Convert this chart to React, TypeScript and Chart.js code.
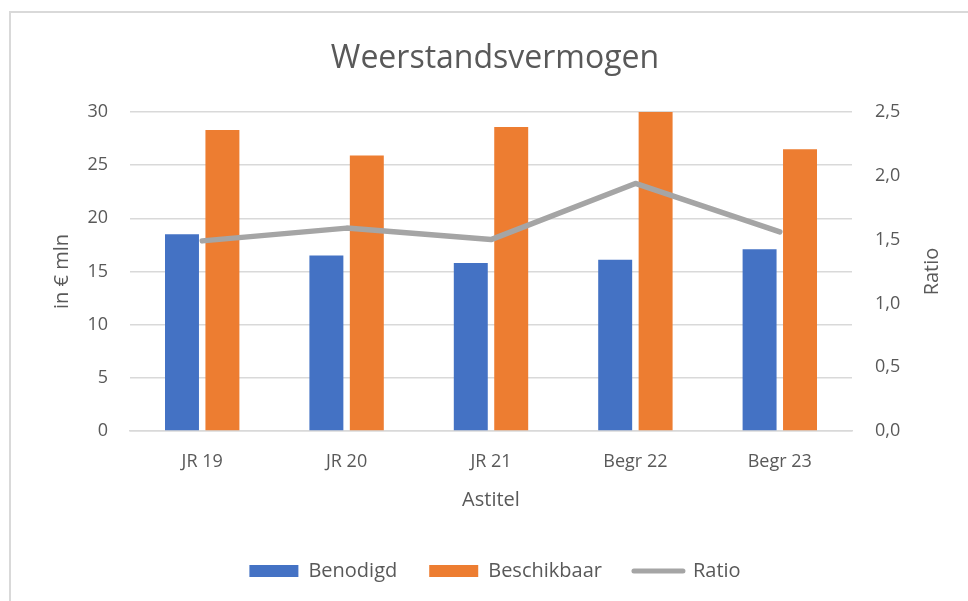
import React, { useEffect, useRef } from 'react';
import { Chart, registerables } from 'chart.js';

Chart.register(...registerables);

const categories = ['JR 19', 'JR 20', 'JR 21', 'Begr 22', 'Begr 23'];
const benodigd = [18.5, 16.5, 15.8, 16.1, 17.1];
const beschikbaar = [28.3, 25.9, 28.6, 30.0, 26.5];
const ratio = [1.49, 1.59, 1.5, 1.94, 1.56];

const chartTitle = 'Weerstandsvermogen';
const xTitle = 'Astitel';
const yTitle = 'in € mln';
const y1Title = 'Ratio';
const seriesNames = ['Benodigd', 'Beschikbaar', 'Ratio'];

const FONT = "'Open Sans', sans-serif";
const TEXT = '#595959';
const GRID = '#d9d9d9';
const BLUE = '#4472C4';
const ORANGE = '#ED7D31';
const GREY = '#A5A5A5';

const rightTitlePlugin = {
  id: 'rightTitle',
  afterDraw(chart: any) {
    const { ctx, chartArea } = chart;
    ctx.save();
    ctx.translate(932, (chartArea.top + chartArea.bottom) / 2);
    ctx.rotate(-Math.PI / 2);
    ctx.fillStyle = TEXT;
    ctx.font = `20px ${FONT}`;
    ctx.textAlign = 'center';
    ctx.textBaseline = 'middle';
    ctx.fillText(y1Title, 0, 0);
    ctx.restore();
  },
};

export default function App() {
  const ref = useRef<HTMLCanvasElement | null>(null);

  useEffect(() => {
    if (!ref.current) return;
    const chart = new Chart(ref.current, {
      type: 'bar',
      data: {
        labels: categories,
        datasets: [
          {
            type: 'bar',
            label: seriesNames[0],
            data: benodigd,
            backgroundColor: BLUE,
            yAxisID: 'y',
            order: 1,
            categoryPercentage: 0.56,
            barPercentage: 0.84,
          },
          {
            type: 'bar',
            label: seriesNames[1],
            data: beschikbaar,
            backgroundColor: ORANGE,
            yAxisID: 'y',
            order: 1,
            categoryPercentage: 0.56,
            barPercentage: 0.84,
          },
          {
            type: 'line',
            label: seriesNames[2],
            data: ratio,
            borderColor: GREY,
            backgroundColor: GREY,
            borderWidth: 5.5,
            borderCapStyle: 'round',
            borderJoinStyle: 'round',
            pointRadius: 0,
            tension: 0,
            yAxisID: 'y1',
            order: 0,
          },
        ] as any,
      },
      options: {
        responsive: false,
        animation: false,
        devicePixelRatio: 1,
        layout: { padding: { left: 22, right: 0, top: 0, bottom: 10 } },
        plugins: {
          title: {
            display: true,
            text: chartTitle,
            color: TEXT,
            font: { family: FONT, size: 32, weight: 'normal' },
            padding: { top: 40, bottom: 33.6 },
          },
          legend: {
            position: 'bottom',
            labels: {
              usePointStyle: true,
              pointStyleWidth: 49,
              boxHeight: 12,
              padding: 32,
              color: TEXT,
              font: { family: FONT, size: 20 },
              generateLabels: (c: any) =>
                c.data.datasets.map((ds: any, i: number) => {
                  const isLine = ds.type === 'line';
                  return {
                    text: ds.label,
                    datasetIndex: i,
                    fillStyle: isLine ? 'rgba(0,0,0,0)' : ds.backgroundColor,
                    strokeStyle: isLine ? ds.borderColor : ds.backgroundColor,
                    lineWidth: isLine ? 5 : 0,
                    lineCap: 'round',
                    pointStyle: isLine ? 'line' : 'rect',
                    hidden: false,
                    fontColor: TEXT,
                  };
                }),
            },
          },
          tooltip: { enabled: false },
        },
        scales: {
          x: {
            grid: { display: false, drawTicks: false },
            border: { display: true, color: GRID, width: 1.5 },
            ticks: { color: TEXT, font: { family: FONT, size: 18 }, padding: 20 },
            title: {
              display: true,
              text: xTitle,
              color: TEXT,
              font: { family: FONT, size: 20 },
              padding: { top: 0, bottom: 17 },
            },
            afterFit: (s: any) => {
              s.height = 98;
            },
          },
          y: {
            position: 'left',
            min: 0,
            max: 30,
            ticks: { stepSize: 5, color: TEXT, font: { family: FONT, size: 18 }, padding: 22 },
            grid: { color: GRID, lineWidth: 1.5, drawTicks: false },
            border: { display: false },
            title: {
              display: true,
              text: yTitle,
              color: TEXT,
              font: { family: FONT, size: 20 },
              padding: { top: 28, bottom: 0 },
            },
            afterFit: (s: any) => {
              s.width = 108;
            },
          },
          y1: {
            position: 'right',
            min: 0,
            max: 2.5,
            ticks: {
              stepSize: 0.5,
              color: TEXT,
              font: { family: FONT, size: 18 },
              padding: 23,
              callback: (v: any) => Number(v).toFixed(1).replace('.', ','),
            },
            grid: { display: false, drawTicks: false },
            border: { display: false },
            afterFit: (s: any) => {
              s.width = 116;
            },
          },
        },
      } as any,
      plugins: [rightTitlePlugin],
    });
    return () => chart.destroy();
  }, []);

  return (
    <div
      style={{
        position: 'fixed',
        left: 0,
        top: 0,
        width: 968,
        height: 601,
        overflow: 'hidden',
        background: '#fff',
      }}
    >
      <div
        style={{
          position: 'absolute',
          left: 9,
          top: 11,
          width: 2000,
          height: 2000,
          border: `2px solid ${GRID}`,
          boxSizing: 'border-box',
        }}
      />
      <canvas
        ref={ref}
        width={968}
        height={601}
        style={{ position: 'absolute', left: 0, top: 0, width: 968, height: 601 }}
      />
    </div>
  );
}
